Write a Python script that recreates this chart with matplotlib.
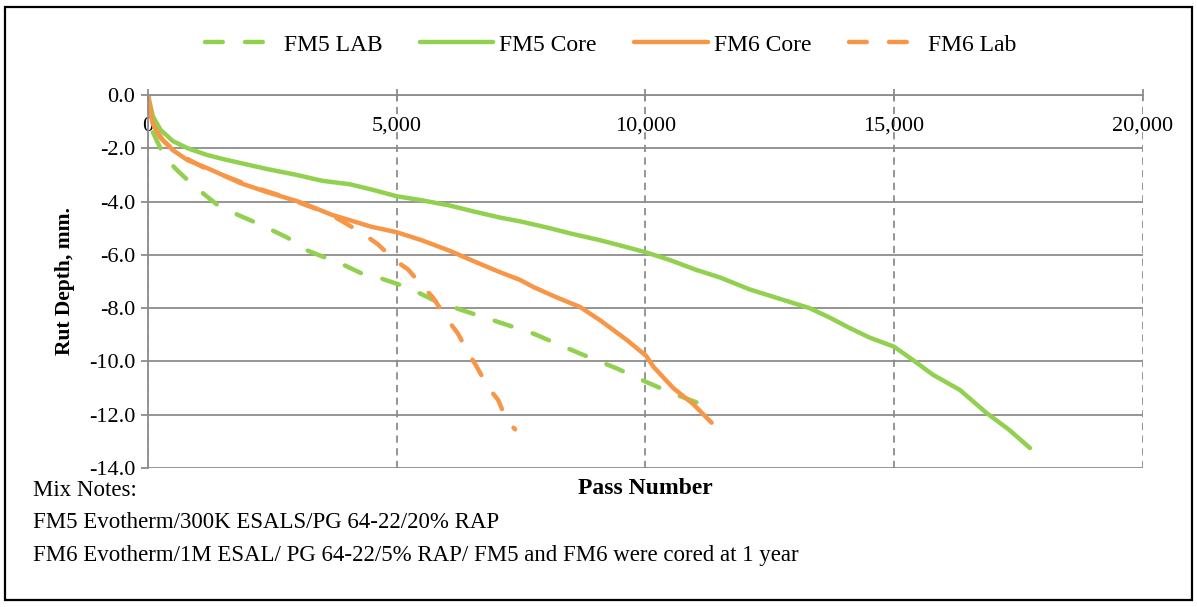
import numpy as np
import matplotlib.pyplot as plt
from matplotlib.ticker import FuncFormatter, FormatStrFormatter
from matplotlib.patches import Rectangle

plt.rcParams['font.family'] = ['Liberation Serif', 'DejaVu Serif']

# rut depth (mm) vs pass number
fm5_core_x = [0, 100, 250, 500, 800, 1185, 1500, 1850, 2400, 2990, 3500, 4060, 4500, 5000,
              5500, 6070, 6500, 7075, 7500, 8080, 8500, 9085, 9500, 10000, 10500, 11000,
              11500, 12100, 12700, 13300, 13700, 14110, 14500, 15000, 15380, 15780, 16320,
              16860, 17300, 17730]
fm5_core_y = [0, -0.8, -1.3, -1.73, -2.0, -2.25, -2.4, -2.55, -2.78, -3.0, -3.22, -3.35, -3.55,
              -3.8, -3.95, -4.15, -4.35, -4.6, -4.75, -5.0, -5.2, -5.45, -5.65, -5.9, -6.2,
              -6.55, -6.85, -7.3, -7.65, -8.0, -8.35, -8.75, -9.1, -9.45, -9.95, -10.5, -11.07,
              -11.94, -12.55, -13.25]

fm6_core_x = [0, 30, 100, 250, 500, 800, 1185, 1500, 1850, 2400, 2990, 3300, 3700, 4060, 4500,
              5000, 5500, 6070, 6500, 7075, 7480, 7740, 8220, 8680, 9085, 9630, 10020, 10160,
              10560, 10960, 11330]
fm6_core_y = [0, -0.5, -1.1, -1.6, -2.07, -2.45, -2.74, -3.0, -3.3, -3.65, -3.98, -4.2, -4.5,
              -4.7, -4.95, -5.15, -5.45, -5.85, -6.2, -6.65, -6.94, -7.2, -7.6, -7.95, -8.45,
              -9.2, -9.8, -10.2, -11.0, -11.6, -12.3]

fm5_lab_x = [100, 200, 300, 540, 800, 1145, 1400, 1810, 2300, 2800, 3220, 3560, 3960, 4300,
             4660, 5025, 5470, 5800, 6270, 7010, 7740, 8680, 9420, 10050, 10550, 11260]
fm5_lab_y = [-1.4, -1.8, -2.2, -2.74, -3.2, -3.75, -4.13, -4.5, -4.9, -5.35, -5.85, -6.1, -6.4,
             -6.7, -6.87, -7.1, -7.45, -7.75, -8.05, -8.5, -8.95, -9.7, -10.26, -10.8, -11.2,
             -11.7]

fm6_lab_x = [0, 100, 300, 600, 845, 1200, 1700, 2200, 2700, 3200, 3620, 3960, 4320, 4620, 4960,
             5230, 5530, 5730, 6010, 6230, 6430, 6610, 6830, 7040, 7210, 7380]
fm6_lab_y = [0, -1.1, -1.7, -2.2, -2.45, -2.8, -3.15, -3.5, -3.8, -4.15, -4.43, -4.8, -5.2, -5.6,
             -6.2, -6.55, -7.2, -7.6, -8.4, -8.95, -9.65, -10.2, -10.95, -11.45, -12.2, -12.55]

green = '#92D050'
orange = '#F79646'
grid_c = '#8C8C8C'

fig = plt.figure(figsize=(11.97, 6.07), dpi=100)
ax = fig.add_axes([0.1236, 0.229, 0.8312, 0.6145])

lw = 3.2
dash = (4, 5)
ax.plot(fm5_lab_x, fm5_lab_y, color=green, lw=lw, dashes=dash, dash_capstyle='round',
        dash_joinstyle='round', label='FM5 LAB')
ax.plot(fm5_core_x, fm5_core_y, color=green, lw=lw, solid_capstyle='round',
        solid_joinstyle='round', label='FM5 Core')
ax.plot(fm6_core_x, fm6_core_y, color=orange, lw=lw, solid_capstyle='round',
        solid_joinstyle='round', label='FM6 Core')
ax.plot(fm6_lab_x, fm6_lab_y, color=orange, lw=lw, dashes=dash, dash_capstyle='round',
        dash_joinstyle='round', label='FM6 Lab')

ax.set_xlim(0, 20000)
ax.set_ylim(-14, 0)
ax.set_xticks([0, 5000, 10000, 15000, 20000])
ax.set_yticks(np.arange(-14, 0.1, 2))
ax.xaxis.set_major_formatter(FuncFormatter(lambda v, p: f'{int(v):,}'))
ax.yaxis.set_major_formatter(FormatStrFormatter('%.1f'))

ax.grid(axis='y', color=grid_c, lw=1.3, ls='-')
ax.grid(axis='x', color=grid_c, lw=1.3, ls=(0, (4, 3)))
ax.set_axisbelow(True)

for s in ['top', 'right']:
    ax.spines[s].set_visible(False)
ax.spines['bottom'].set_position(('data', 0))
ax.spines['bottom'].set_color(grid_c)
ax.spines['bottom'].set_linewidth(1.3)
ax.spines['left'].set_color(grid_c)
ax.spines['left'].set_linewidth(1.3)

ax.tick_params(axis='x', direction='inout', length=9, width=1.3, color=grid_c, pad=11,
               labelsize=16)
ax.tick_params(axis='y', direction='out', length=5, width=1.3, color=grid_c, pad=4,
               labelsize=16)

ax.set_ylabel('Rut Depth, mm.', fontsize=15.5, fontweight='bold', labelpad=10)
fig.text(0.5393, 1 - 488 / 607, 'Pass Number', fontsize=17, fontweight='bold',
         ha='center', va='center')

notes = ['Mix Notes:',
         'FM5 Evotherm/300K ESALS/PG 64-22/20% RAP',
         'FM6 Evotherm/1M ESAL/ PG 64-22/5% RAP/ FM5 and FM6 were cored at 1 year']
for i, t in enumerate(notes):
    fig.text(33 / 1197, 1 - (490 + 33 * i) / 607, t, fontsize=16.5, ha='left', va='center')

fig.legend(loc='center', bbox_to_anchor=(0.51, 0.926), ncol=4, frameon=False, fontsize=17,
           handlelength=3.1, handletextpad=0.25, columnspacing=1.6)

fig.patches.append(Rectangle((5 / 1197, 1 - 600 / 607), 1187 / 1197, 593 / 607,
                             transform=fig.transFigure, fill=False, ec='black', lw=1.6))

fig.savefig('out.png', dpi=100)
